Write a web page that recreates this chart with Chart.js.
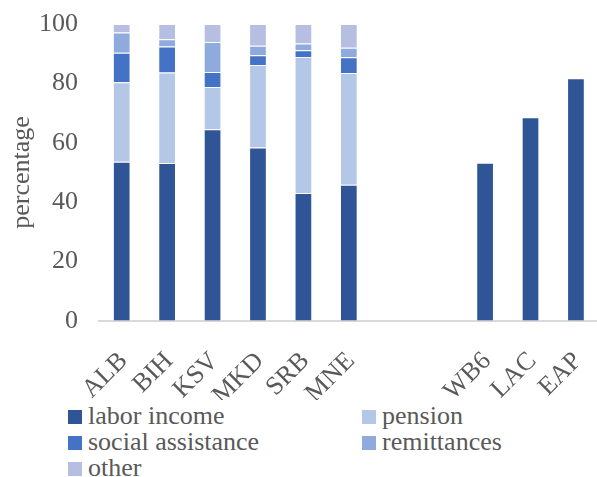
<!DOCTYPE html>
<html lang="en">
<head>
  <meta charset="UTF-8">
  <title>Income sources</title>
  <script src="https://cdn.jsdelivr.net/npm/chart.js"></script>
  <style>
    body {
      margin: 0;
      background: #fff;
      overflow: hidden;
    }
    #wrap {
      position: relative;
      width: 615px;
      height: 400px;
    }
    #legend {
      position: absolute;
      left: 68px;
      top: 403px;
      display: grid;
      grid-template-columns: 294px 230px;
      font-family: "Liberation Serif", serif;
      font-size: 26px;
      color: #595959;
    }
    #legend div {
      height: 26px;
      line-height: 26px;
      white-space: nowrap;
    }
    #legend span {
      display: inline-block;
      width: 14px;
      height: 14px;
      margin-right: 6px;
      vertical-align: 0px;
    }
  </style>
</head>
<body>
  <div id="wrap"><canvas id="chart" width="615" height="400"></canvas></div>
  <div id="legend"></div>

  <script>
    const categories = ["ALB", "BIH", "KSV", "MKD", "SRB", "MNE", "", "", "WB6", "LAC", "EAP"];
    const laborIncome = [53.6, 53.2, 64.6, 58.4, 43.1, 45.9, null, null, 53.3, 68.6, 81.7];
    const pension = [26.8, 30.5, 14.2, 27.8, 45.8, 37.6, null, null, null, null, null];
    const socialAssistance = [9.9, 8.7, 5.0, 3.3, 2.3, 5.3, null, null, null, null, null];
    const remittances = [6.8, 2.5, 10.1, 3.2, 2.2, 3.2, null, null, null, null, null];
    const other = [2.9, 5.1, 6.1, 7.3, 6.6, 8.0, null, null, null, null, null];
    const yTicks = [0, 20, 40, 60, 80, 100];

    const textColor = "#595959";
    const font = { family: "'Liberation Serif', serif", size: 26 };

    function series(label, data, color) {
      return {
        label: label,
        data: data,
        backgroundColor: color,
        borderColor: "rgba(255,255,255,0.6)",
        borderWidth: 1,
        borderSkipped: "bottom",
        barPercentage: 0.39,
        categoryPercentage: 1
      };
    }

    const ctx = document.getElementById("chart").getContext("2d");
    const chart = new Chart(ctx, {
      type: "bar",
      data: {
        labels: categories,
        datasets: [
          series("labor income", laborIncome, "#2F5597"),
          series("pension", pension, "#B4C7E7"),
          series("social assistance", socialAssistance, "#4472C4"),
          series("remittances", remittances, "#8FAADC"),
          series("other", other, "#B6BFE2")
        ]
      },
      options: {
        responsive: false,
        animation: false,
        layout: { padding: { top: 24, left: 0, right: 0, bottom: 0 } },
        plugins: {
          legend: { display: false },
          tooltip: { enabled: false }
        },
        scales: {
          x: {
            stacked: true,
            grid: { display: false },
            border: { display: true, color: "#D9D9D9", width: 2 },
            ticks: {
              color: textColor,
              font: font,
              minRotation: 45,
              maxRotation: 45,
              autoSkip: false,
              padding: 17,
              labelOffset: 2
            },
            afterFit: s => { s.height = 79; }
          },
          y: {
            stacked: true,
            min: 0,
            max: 100,
            afterBuildTicks: s => { s.ticks = yTicks.map(v => ({ value: v })); },
            // transparent tick marks push the labels away from the plot
            grid: { display: true, color: "rgba(0,0,0,0)", drawOnChartArea: false, drawTicks: true, tickLength: 21 },
            border: { display: false },
            ticks: { color: textColor, font: font, padding: 0 },
            title: {
              display: true,
              text: "percentage",
              color: textColor,
              font: font,
              padding: { top: 7, bottom: 0 }
            },
            afterFit: s => { s.width = 99; }
          }
        }
      }
    });

    const legend = document.getElementById("legend");
    chart.data.datasets.forEach(ds => {
      const item = document.createElement("div");
      const box = document.createElement("span");
      box.style.background = ds.backgroundColor;
      item.appendChild(box);
      item.appendChild(document.createTextNode(ds.label));
      legend.appendChild(item);
    });
  </script>
</body>
</html>
